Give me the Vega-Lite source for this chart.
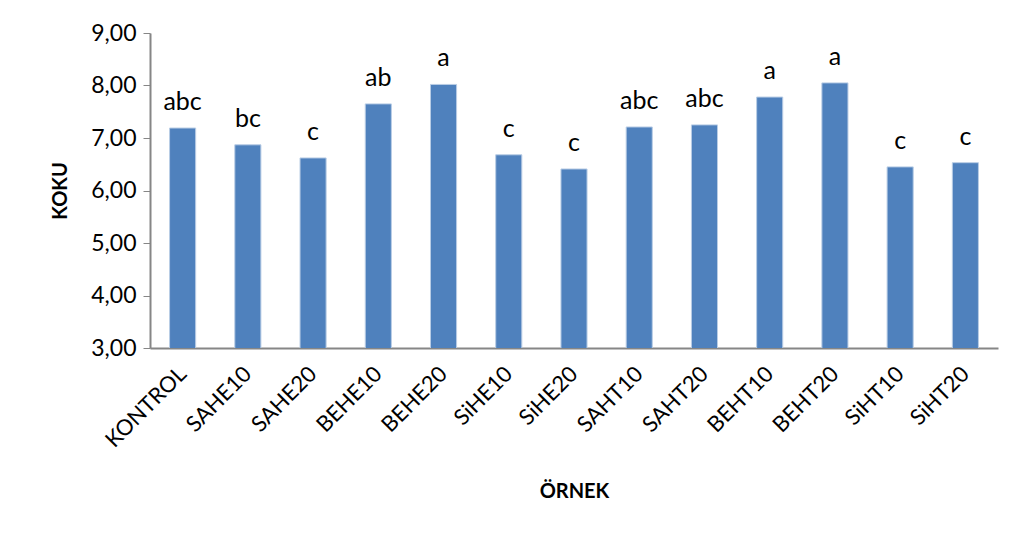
{
  "$schema": "https://vega.github.io/schema/vega-lite/v6.json",
  "width": 848,
  "height": 315,
  "autosize": {"type": "none"},
  "padding": {"left": 150, "top": 33, "right": 19, "bottom": 185},
  "background": "white",
  "config": {
    "view": {"stroke": null},
    "font": "Lato",
    "axis": {"labelFont": "Lato", "titleFont": "Lato", "labelColor": "black", "titleColor": "black", "grid": false, "domainColor": "#868686", "tickColor": "#868686"}
  },
  "data": {
    "values": [
      {"ornek": "KONTROL", "koku": 7.19, "harf": "abc"},
      {"ornek": "SAHE10", "koku": 6.87, "harf": "bc"},
      {"ornek": "SAHE20", "koku": 6.62, "harf": "c"},
      {"ornek": "BEHE10", "koku": 7.65, "harf": "ab"},
      {"ornek": "BEHE20", "koku": 8.02, "harf": "a"},
      {"ornek": "SiHE10", "koku": 6.68, "harf": "c"},
      {"ornek": "SiHE20", "koku": 6.41, "harf": "c"},
      {"ornek": "SAHT10", "koku": 7.21, "harf": "abc"},
      {"ornek": "SAHT20", "koku": 7.25, "harf": "abc"},
      {"ornek": "BEHT10", "koku": 7.78, "harf": "a"},
      {"ornek": "BEHT20", "koku": 8.05, "harf": "a"},
      {"ornek": "SiHT10", "koku": 6.45, "harf": "c"},
      {"ornek": "SiHT20", "koku": 6.53, "harf": "c"}
    ]
  },
  "encoding": {
    "x": {
      "field": "ornek", "type": "nominal", "sort": null,
      "scale": {"paddingInner": 0.6, "paddingOuter": 0.3},
      "axis": {
        "title": "ÖRNEK", "titleFontSize": 20, "titleFontWeight": "bold", "titlePadding": 30,
        "labelAngle": -45, "labelFontSize": 22, "labelPadding": 15, "labelOffset": -7, "labelLimit": 0, "ticks": false,
        "domainWidth": 2
      }
    },
    "y": {
      "field": "koku", "type": "quantitative",
      "scale": {"domain": [3, 9], "nice": false, "zero": false},
      "axis": {
        "title": "KOKU", "titleFontSize": 20, "titleFontWeight": "bold", "titlePadding": 20,
        "values": [3, 4, 5, 6, 7, 8, 9],
        "labelExpr": "replace(format(datum.value, '.2f'), '.', ',')",
        "labelFontSize": 23, "labelPadding": 7, "tickSize": 7, "domainWidth": 2
      }
    }
  },
  "layer": [
    {"mark": {"type": "bar", "color": "#4F81BD", "stroke": "#b9cde5", "strokeWidth": 1, "clip": true}},
    {"mark": {"type": "text", "fontSize": 25, "dy": -13, "baseline": "bottom", "color": "black"}, "encoding": {"text": {"field": "harf"}}}
  ]
}
